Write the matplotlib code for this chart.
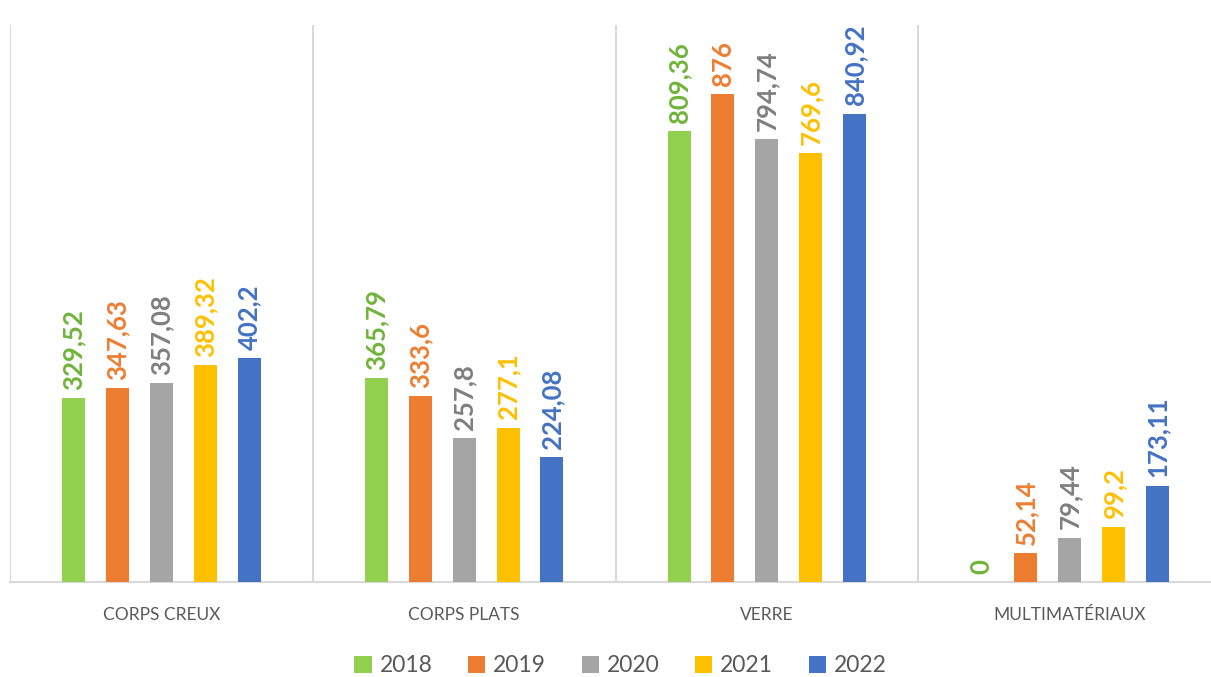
import matplotlib.pyplot as plt
import numpy as np

# donnees
categories = ["CORPS CREUX", "CORPS PLATS", "VERRE", "MULTIMATÉRIAUX"]
annees = ["2018", "2019", "2020", "2021", "2022"]
v2018 = [329.52, 365.79, 809.36, 0]
v2019 = [347.63, 333.6, 876, 52.14]
v2020 = [357.08, 257.8, 794.74, 79.44]
v2021 = [389.32, 277.1, 769.6, 99.2]
v2022 = [402.2, 224.08, 840.92, 173.11]
series = [v2018, v2019, v2020, v2021, v2022]

couleurs = ["#92D050", "#ED7D31", "#A5A5A5", "#FFC000", "#4472C4"]
couleurs_txt = ["#6FB43A", "#ED7D31", "#7F7F7F", "#FFC000", "#4472C4"]

plt.rcParams['font.family'] = ['Lato', 'DejaVu Sans']

fig = plt.figure(figsize=(12.11, 6.77), dpi=100)
ax = fig.add_axes([10/1211, 95/677, 1.0, 557/677])

x = np.arange(len(categories))
pas = 0.145
larg = 0.076

for i in range(len(series)):
    pos = x + (i - 2) * pas
    ax.bar(pos, series[i], width=larg, color=couleurs[i], label=annees[i], zorder=3)
    for p, v in zip(pos, series[i]):
        txt = ("%g" % v).replace('.', ',')
        ax.annotate(txt, (p, v), xytext=(0, 6), textcoords='offset points',
                    rotation=90, ha='center', va='bottom', fontsize=18.5,
                    fontweight='bold', color=couleurs_txt[i])

ax.set_xlim(-0.5, 3.5)
ax.set_ylim(0, 1000)
ax.set_yticks([])
ax.set_xticks(x)
ax.set_xticklabels(categories, fontsize=12.5, color="#595959")
ax.tick_params(axis='x', length=0, pad=18)
ax.set_xticks(np.arange(-0.5, 3.6, 1), minor=True)
ax.tick_params(axis='x', which='minor', length=0)
ax.grid(which='minor', axis='x', color="#D9D9D9", linewidth=1.5)
for s in ['top', 'right', 'left']:
    ax.spines[s].set_visible(False)
ax.spines['bottom'].set_color("#D9D9D9")
ax.spines['bottom'].set_linewidth(1.5)

fig.legend(loc='center', bbox_to_anchor=(0.5 + 15/1211, 11/677), ncol=5,
           frameon=False, fontsize=16.5, handlelength=0.75, handleheight=0.75,
           handletextpad=0.35, columnspacing=1.55, labelcolor="#595959")

fig.savefig("out.png", dpi=100)
